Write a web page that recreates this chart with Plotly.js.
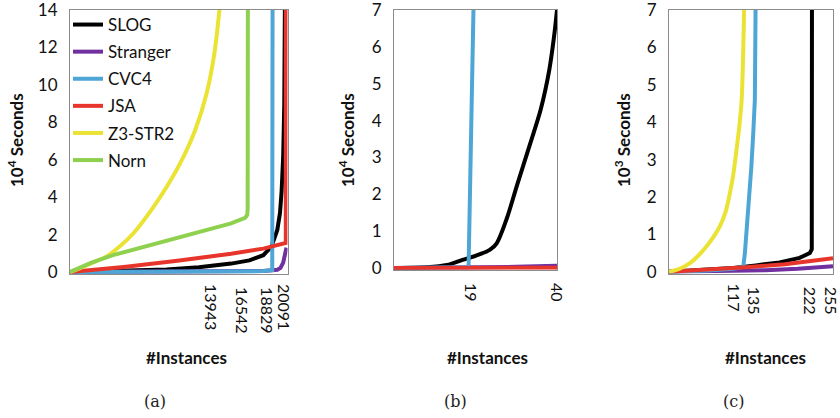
<!DOCTYPE html>
<html>
<head>
<meta charset="utf-8">
<script src="https://cdn.plot.ly/plotly-3.0.1.min.js"></script>
<style>html,body{margin:0;padding:0;background:#fff;}#chart{width:840px;height:418px;}</style>
</head>
<body>
<div id="chart"></div>
<script>
// ---------- Data ----------
const seriesNames = ["SLOG", "Stranger", "CVC4", "JSA", "Z3-STR2", "Norn"];
const seriesColors = ["#000000", "#7030a0", "#4ea6d6", "#e8352b", "#ebe333", "#8fd14f"];

// Panel (a): #Instances vs 10^4 seconds
const aSlogX = [0, 5000, 9000, 12000, 15000, 16700, 18000, 18750, 19300, 19550, 19700, 19850, 19950, 20010];
const aSlogY = [0, 0.05, 0.13, 0.25, 0.45, 0.62, 0.9, 1.35, 2.25, 3.15, 4.3, 6.2, 9, 14.5];
const aStrangerX = [0, 10000, 18000, 19300, 19600, 19850, 20000, 20100, 20150];
const aStrangerY = [0, 0.02, 0.06, 0.12, 0.22, 0.5, 0.9, 1.2, 1.3];
const aCvc4X = [0, 10000, 18000, 18829, 18860];
const aCvc4Y = [0, 0.02, 0.05, 0.1, 14.5];
const aJsaX = [0, 5000, 10000, 12060, 15000, 18000, 20000, 20091, 20100];
const aJsaY = [0, 0.27, 0.6, 0.75, 0.98, 1.25, 1.53, 1.55, 14.5];
const aZ3X = [0, 1600, 3450, 4700, 5950, 7500, 9050, 10200, 11600, 12700, 13450, 13943];
const aZ3Y = [0, 0.37, 0.85, 1.4, 2.1, 3.25, 4.6, 5.75, 7.5, 9.5, 11.7, 14.2];
const aNornX = [0, 2000, 4000, 8000, 12000, 15000, 16300, 16500, 16542, 16560];
const aNornY = [0, 0.5, 0.9, 1.5, 2.1, 2.6, 2.9, 3.05, 3.4, 14.5];
const aTicks = [13943, 16542, 18829, 20091];
const aYTicks = [0, 2, 4, 6, 8, 10, 12, 14];

// Panel (b): #Instances vs 10^4 seconds
const bSlogX = [0, 8, 13, 16.8, 20, 23.5, 25.2, 27.7, 30.2, 33.5, 36, 38.1, 39.3, 40];
const bSlogY = [0, 0.02, 0.08, 0.22, 0.33, 0.49, 0.67, 1.35, 2.25, 3.4, 4.3, 5.37, 6.3, 7.0];
const bStrangerX = [0, 20, 30, 40];
const bStrangerY = [0, 0.01, 0.03, 0.06];
const bCvc4X = [0, 10, 18.3, 19.5, 19.6];
const bCvc4Y = [0, 0.01, 0.02, 7.0, 7.6];
const bJsaX = [0, 20, 40];
const bJsaY = [0, 0.003, 0.006];
const bTicks = [19, 40];
const bYTicks = [0, 1, 2, 3, 4, 5, 6, 7];

// Panel (c): #Instances vs 10^3 seconds
const cSlogX = [0, 50, 100, 135, 172, 203, 219, 222, 222.3];
const cSlogY = [0, 0.04, 0.1, 0.17, 0.25, 0.37, 0.5, 0.6, 7.5];
const cStrangerX = [0, 100, 150, 200, 255];
const cStrangerY = [0, 0.01, 0.04, 0.08, 0.15];
const cCvc4X = [0, 60, 100, 115.5, 118, 120.6, 124, 128, 131, 133.5, 134.6, 135];
const cCvc4Y = [0, 0.03, 0.08, 0.13, 0.5, 1.04, 1.9, 2.8, 3.7, 4.6, 7.0, 7.5];
const cJsaX = [0, 60, 120, 180, 230, 255];
const cJsaY = [0, 0.05, 0.12, 0.2, 0.29, 0.36];
const cZ3X = [0, 15, 32.6, 45, 58.5, 70, 79, 88, 94.7, 100, 105, 110, 113, 115.5, 117];
const cZ3Y = [0, 0.07, 0.23, 0.42, 0.68, 0.95, 1.21, 1.6, 2.1, 2.6, 3.26, 4.0, 4.6, 5.94, 7.2];
const cTicks = [117, 135, 222, 255];
const cYTicks = [0, 1, 2, 3, 4, 5, 6, 7];

const yTitles = ["10<sup>4</sup> Seconds", "10<sup>4</sup> Seconds", "10<sup>3</sup> Seconds"];
const xTitle = "#Instances";
const panelLabels = ["(a)", "(b)", "(c)"];

// ---------- Build ----------
const W = 840, H = 418;
const px = v => v / W;
const py = v => 1 - v / H;
const LW = 4;

function tr(x, y, idx, xa, ya, legend, smooth) {
  const line = {color: seriesColors[idx], width: LW};
  if (smooth) { line.shape = "spline"; line.smoothing = 0.8; }
  return {
    x: x, y: y, type: "scatter", mode: "lines",
    name: seriesNames[idx], legendgroup: seriesNames[idx],
    showlegend: !!legend, line: line,
    xaxis: xa, yaxis: ya, hoverinfo: "skip"
  };
}
// empty helper trace so that an overlay label axis gets drawn
function holder(xa, ya) {
  return {x: [], y: [], type: "scatter", mode: "lines", showlegend: false,
          xaxis: xa, yaxis: ya, hoverinfo: "skip"};
}

const data = [
  tr(aSlogX, aSlogY, 0, "x", "y", true),
  tr(aStrangerX, aStrangerY, 1, "x", "y", true),
  tr(aCvc4X, aCvc4Y, 2, "x", "y", true),
  tr(aJsaX, aJsaY, 3, "x", "y", true),
  tr(aZ3X, aZ3Y, 4, "x", "y", true, true),
  tr(aNornX, aNornY, 5, "x", "y", true),

  tr(bSlogX, bSlogY, 0, "x2", "y2", false, true),
  tr(bStrangerX, bStrangerY, 1, "x2", "y2"),
  tr(bCvc4X, bCvc4Y, 2, "x2", "y2"),
  tr(bJsaX, bJsaY, 3, "x2", "y2"),

  tr(cSlogX, cSlogY, 0, "x3", "y3"),
  tr(cStrangerX, cStrangerY, 1, "x3", "y3"),
  tr(cCvc4X, cCvc4Y, 2, "x3", "y3"),
  tr(cJsaX, cJsaY, 3, "x3", "y3"),
  tr(cZ3X, cZ3Y, 4, "x3", "y3", false, true),

  holder("x4", "y"), holder("x5", "y"), holder("x6", "y3")
];

const FONT = "Lato, 'Open Sans', sans-serif";
const tickFont = {family: FONT, size: 17, color: "#111"};
const xTickFont = {family: FONT, size: 16, color: "#111"};
const frame = {showline: true, mirror: true, linecolor: "#8c8c8c", linewidth: 1,
               showgrid: false, zeroline: false, ticks: "", fixedrange: true,
               ticklabeloverflow: "allow"};

function xax(domain, range, ticks, anchor, shift) {
  return Object.assign({}, frame, {
    domain: domain, range: range, anchor: anchor,
    tickmode: "array", tickvals: ticks, ticktext: ticks.map(String),
    tickangle: 90, tickfont: xTickFont, ticklabelstandoff: 9, ticklabelshift: shift || 0
  });
}
// overlay axis carrying only some labels (to offset them like the reference)
function xover(over, range, ticks, anchor, shift) {
  return {
    overlaying: over, anchor: anchor, range: range, side: "bottom",
    showline: false, showgrid: false, zeroline: false, ticks: "", fixedrange: true,
    ticklabeloverflow: "allow",
    tickmode: "array", tickvals: ticks, ticktext: ticks.map(String),
    tickangle: 90, tickfont: xTickFont, ticklabelstandoff: 9, ticklabelshift: shift
  };
}
function yax(domain, range, ticks, anchor) {
  return Object.assign({}, frame, {
    domain: domain, range: range, anchor: anchor,
    tickmode: "array", tickvals: ticks, ticktext: ticks.map(String),
    tickfont: tickFont, ticklabelstandoff: 8
  });
}

const annotations = [];
const yTitleX = [15, 346, 622];
const xTitleX = [186, 487, 765];
const labelX = [155, 456, 733];
for (let i = 0; i < 3; i++) {
  annotations.push({xref: "paper", yref: "paper", x: px(yTitleX[i]), y: py(140),
    text: "<b>" + yTitles[i] + "</b>", textangle: -90, showarrow: false,
    xanchor: "center", yanchor: "middle", font: {family: FONT, size: 17, color: "#111"}});
  annotations.push({xref: "paper", yref: "paper", x: px(xTitleX[i]), y: py(357),
    text: "<b>" + xTitle + "</b>", showarrow: false,
    xanchor: "center", yanchor: "middle", font: {family: FONT, size: 17, color: "#111"}});
  annotations.push({xref: "paper", yref: "paper", x: px(labelX[i]), y: py(401),
    text: panelLabels[i], showarrow: false,
    xanchor: "center", yanchor: "middle", font: {family: "'DejaVu Serif', 'Liberation Serif', serif", size: 16, color: "#222"}});
}

const aRange = [0, 20250], bRange = [0, 40], cRange = [0, 255];

const layout = {
  width: W, height: H,
  margin: {l: 0, r: 0, t: 0, b: 0},
  paper_bgcolor: "#fff", plot_bgcolor: "#fff",
  showlegend: true,
  legend: {x: px(68), y: py(7), xanchor: "left", yanchor: "top",
           bgcolor: "rgba(0,0,0,0)", borderwidth: 0,
           font: {family: FONT, size: 17, color: "#111"},
           tracegroupgap: 2, itemwidth: 30},
  xaxis: xax([px(70), px(287.5)], aRange, [aTicks[1], aTicks[2]], "y", -6),
  xaxis4: xover("x", aRange, [aTicks[0]], "y", -10),
  xaxis5: xover("x", aRange, [aTicks[3]], "y", -3),
  yaxis: yax([py(273.9), py(10)], [-0.1, 14], aYTicks, "x"),
  xaxis2: xax([px(394), px(557)], bRange, bTicks, "y2", -1),
  yaxis2: yax([py(269.8), py(10)], [-0.05, 7], bYTicks, "x2"),
  xaxis3: xax([px(669), px(833)], cRange, [cTicks[1], cTicks[2], cTicks[3]], "y3", -3),
  xaxis6: xover("x3", cRange, [cTicks[0]], "y3", -11),
  yaxis3: yax([py(273.6), py(10)], [-0.05, 7], cYTicks, "x3"),
  annotations: annotations
};

Plotly.newPlot("chart", data, layout, {displayModeBar: false, staticPlot: true});
</script>
</body>
</html>
